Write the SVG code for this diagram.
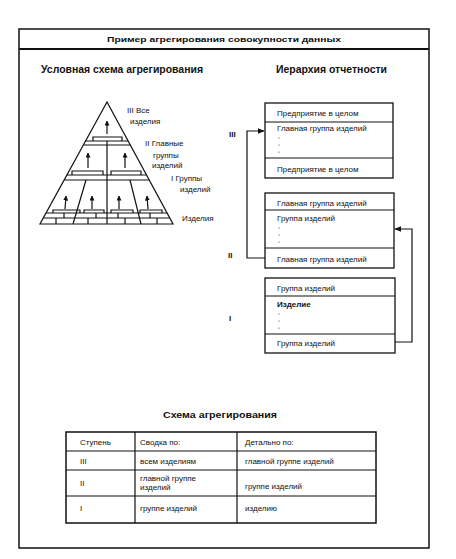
<svg xmlns="http://www.w3.org/2000/svg" width="456" height="559" viewBox="0 0 456 559">
<defs>
<style>
.t{font-family:"Liberation Sans",Arial,sans-serif;fill:#111}
.h{font-weight:bold}
.s{font-size:8px}
.ln{stroke:#111;fill:none;stroke-width:1.2}
.bx{stroke:#111;fill:#fff;stroke-width:1.3}
.d{fill:#333}
</style>
<marker id="ah" viewBox="0 0 10 10" refX="9" refY="5" markerWidth="7" markerHeight="7" markerUnits="userSpaceOnUse" orient="auto"><path d="M0,1 L10,5 L0,9 z" fill="#111"/></marker>
<marker id="pa" viewBox="0 0 10 10" refX="9" refY="5" markerWidth="5" markerHeight="5" markerUnits="userSpaceOnUse" orient="auto"><path d="M0,0 L10,5 L0,10 z" fill="#111"/></marker>
</defs>
<rect width="456" height="559" fill="#fff"/>
<g id="frame">
<rect x="19" y="29" width="410" height="519" fill="none" stroke="#111" stroke-width="1.5"/>
<line x1="19" y1="49" x2="429" y2="49" stroke="#111" stroke-width="2"/>
<text class="t h" x="224" y="42" font-size="8" text-anchor="middle" textLength="234" lengthAdjust="spacingAndGlyphs">Пример агрегирования совокупности данных</text>
<text class="t h" x="41" y="73" font-size="10" textLength="162" lengthAdjust="spacingAndGlyphs">Условная схема агрегирования</text>
<text class="t h" x="276" y="73" font-size="10" textLength="111" lengthAdjust="spacingAndGlyphs">Иерархия отчетности</text>
</g>
<g id="pyramid">
<path class="ln" d="M107,102 L40,224 L173,224 Z"/>
<path class="ln" d="M85.6,141 H128.1 M83.4,145 H130.3 M66.9,175 H146.5 M64.2,180 H149.2 M46,213 H167 M43.3,218 H169.8"/>
<path class="ln" d="M107,141 V224 M86,180 L73,224 M130,180 L141,224"/>
<path class="ln" d="M56,218 V224 M88,218 V224 M125,218 V224 M157,218 V224 M64,213 V218 M96,213 V218 M118,213 V218 M150,213 V218"/>
<path class="ln" d="M93,141 V137 H122 V141 M72,175 V171 H103 V175 M111,175 V171 H141 V175"/>
<path class="ln" d="M53,213 V210 H80 V213 M84,213 V210 H104 V213 M111,213 V210 H133 V213 M140,213 V210 H162 V213"/>
<g class="ln" marker-end="url(#pa)">
<line x1="107" y1="134" x2="107" y2="121"/>
<line x1="88" y1="168" x2="88" y2="153"/>
<line x1="125" y1="168" x2="125" y2="153"/>
<line x1="65" y1="209" x2="66" y2="196"/>
<line x1="92" y1="209" x2="92" y2="196"/>
<line x1="119" y1="209" x2="119" y2="196"/>
<line x1="148" y1="209" x2="147" y2="196"/>
</g>
<text class="t s" x="127" y="113">III Все</text>
<text class="t s" x="130" y="124">изделия</text>
<text class="t s" x="145" y="146">II Главные</text>
<text class="t s" x="153" y="158">группы</text>
<text class="t s" x="152" y="168">изделий</text>
<text class="t s" x="171" y="181">I Группы</text>
<text class="t s" x="180" y="192">изделий</text>
<text class="t s" x="182" y="221">Изделия</text>
</g>
<g id="levels">
<text class="t h" x="229" y="137" font-size="8">III</text>
<text class="t h" x="228" y="258" font-size="8">II</text>
<text class="t h" x="229" y="321" font-size="8">I</text>
</g>
<g id="box3">
<rect class="bx" x="265" y="103" width="128" height="75"/>
<line class="ln" x1="265" y1="122" x2="393" y2="122"/>
<line class="ln" x1="265" y1="158" x2="393" y2="158"/>
<text class="t s" x="277" y="116">Предприятие в целом</text>
<text class="t s" x="277" y="131">Главная группа изделий</text>
<circle class="d" cx="279" cy="138" r="0.6"/><circle class="d" cx="279" cy="145" r="0.6"/><circle class="d" cx="279" cy="152" r="0.6"/>
<text class="t s" x="277" y="172">Предприятие в целом</text>
</g>
<g id="box2">
<rect class="bx" x="265" y="193" width="129" height="75"/>
<line class="ln" x1="265" y1="210" x2="394" y2="210"/>
<line class="ln" x1="265" y1="248" x2="394" y2="248"/>
<text class="t s" x="277" y="206">Главная группа изделий</text>
<text class="t s" x="277" y="221">Группа изделий</text>
<circle class="d" cx="279" cy="228" r="0.6"/><circle class="d" cx="279" cy="235" r="0.6"/><circle class="d" cx="279" cy="242" r="0.6"/>
<text class="t s" x="277" y="262">Главная группа изделий</text>
</g>
<g id="box1">
<rect class="bx" x="265" y="278" width="130" height="75"/>
<line class="ln" x1="265" y1="296" x2="395" y2="296"/>
<line class="ln" x1="265" y1="334" x2="395" y2="334"/>
<text class="t s" x="277" y="291">Группа изделий</text>
<text class="t s h" x="277" y="307">Изделие</text>
<circle class="d" cx="279" cy="314" r="0.6"/><circle class="d" cx="279" cy="321" r="0.6"/><circle class="d" cx="279" cy="328" r="0.6"/>
<text class="t s" x="277" y="346">Группа изделий</text>
</g>
<g id="connectors">
<path class="ln" d="M265,258 H247 V131 H264" marker-end="url(#ah)"/>
<path class="ln" d="M395,342 H412 V229 H395" marker-end="url(#ah)"/>
</g>
<g id="table">
<text class="t h" x="220" y="418" font-size="9" text-anchor="middle" textLength="114" lengthAdjust="spacingAndGlyphs">Схема агрегирования</text>
<rect x="66" y="432" width="310" height="91" fill="none" stroke="#111" stroke-width="1.5"/>
<path class="ln" d="M66,451 H376 M66,470 H376 M66,496 H376 M135,432 V523 M237,432 V523"/>
<text class="t s" x="80" y="445">Ступень</text>
<text class="t s" x="140" y="445">Сводка по:</text>
<text class="t s" x="245" y="445">Детально по:</text>
<text class="t s" x="80" y="464">III</text>
<text class="t s" x="140" y="464">всем изделиям</text>
<text class="t s" x="245" y="464">главной группе изделий</text>
<text class="t s" x="80" y="486">II</text>
<text class="t s" x="140" y="481">главной группе</text>
<text class="t s" x="140" y="490">изделий</text>
<text class="t s" x="245" y="489">группе изделий</text>
<text class="t s" x="80" y="511">I</text>
<text class="t s" x="140" y="511">группе изделий</text>
<text class="t s" x="245" y="511">изделию</text>
</g>
</svg>
